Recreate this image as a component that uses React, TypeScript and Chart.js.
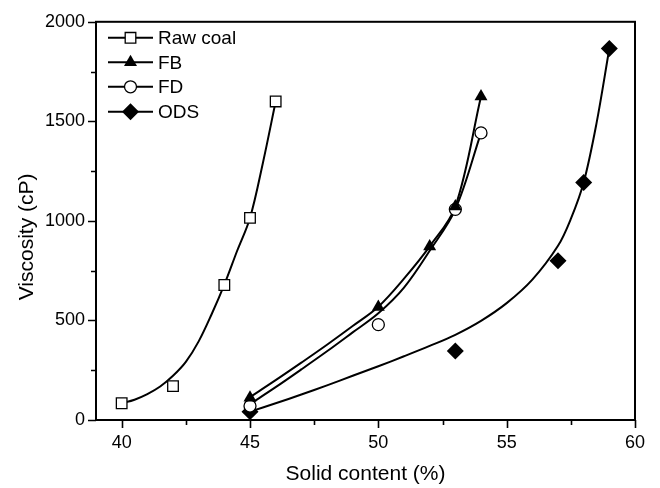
import React, { useEffect, useRef } from 'react';
import { Chart, registerables } from 'chart.js';

Chart.register(...registerables);

const FONT = "'Liberation Sans', Arial, Helvetica, sans-serif";

// Axis ticks
const xMajorTicks = [40, 45, 50, 55, 60];
const xMinorTicks = [42.5, 47.5, 52.5, 57.5];
const yMajorTicks = [0, 500, 1000, 1500, 2000];
const yMinorTicks = [250, 750, 1250, 1750];

// Texts
const seriesNames = ['Raw coal', 'FB', 'FD', 'ODS'];
const xTitle = 'Solid content (%)';
const yTitle = 'Viscosity (cP)';

// Measured points
const rawX = [40, 42, 44, 45, 46];
const rawY = [84, 170, 678, 1015, 1600];
const fbX = [45, 50, 52, 53, 54];
const fbY = [112, 567, 872, 1072, 1625];
const fdX = [45, 50, 53, 54];
const fdY = [70, 479, 1058, 1442];
const odsX = [45, 53, 57, 58, 59];
const odsY = [42, 347, 800, 1193, 1866];

// Fitted curves
const rawFitX = [40, 40.5, 41, 41.5, 42, 42.5, 43, 43.5, 44, 44.5, 45, 45.5, 46];
const rawFitY = [84, 102, 130, 168, 222, 292, 395, 530, 680, 850, 1015, 1290, 1600];
const fbFitX = [45, 46, 47, 48, 49, 50, 51, 52, 53, 54];
const fbFitY = [115, 200, 288, 378, 472, 569, 710, 872, 1072, 1625];
const fdFitX = [45, 46, 47, 48, 49, 50, 51, 52, 53, 54];
const fdFitY = [80, 165, 254, 345, 440, 536, 665, 850, 1058, 1442];
const odsFitX = [45, 46, 47, 48, 49, 50, 51, 52, 53, 54, 55, 56, 57, 57.5, 58, 58.5, 59];
const odsFitY = [42, 84, 128, 174, 222, 270, 320, 372, 428, 498, 587, 705, 875, 1010, 1193, 1490, 1866];

const pts = (xs: number[], ys: number[]) => xs.map((x, i) => ({ x, y: ys[i] }));

type MarkerKind = 'square' | 'triangle' | 'circle' | 'diamond';
const markerKinds: MarkerKind[] = ['square', 'triangle', 'circle', 'diamond'];

function drawMarker(ctx: CanvasRenderingContext2D, kind: MarkerKind, x: number, y: number) {
  ctx.save();
  ctx.beginPath();
  ctx.lineWidth = 1.3;
  ctx.strokeStyle = '#000';
  if (kind === 'square') {
    const s = 10.6;
    ctx.rect(x - s / 2, y - s / 2, s, s);
    ctx.fillStyle = '#fff';
    ctx.fill();
    ctx.stroke();
  } else if (kind === 'triangle') {
    const r = 7.5;
    for (let i = 0; i < 3; i++) {
      const a = (i * 2 * Math.PI) / 3;
      const px = x + Math.sin(a) * r;
      const py = y - Math.cos(a) * r;
      if (i === 0) ctx.moveTo(px, py);
      else ctx.lineTo(px, py);
    }
    ctx.closePath();
    ctx.fillStyle = '#000';
    ctx.fill();
  } else if (kind === 'circle') {
    ctx.arc(x, y, 6, 0, Math.PI * 2);
    ctx.fillStyle = '#fff';
    ctx.fill();
    ctx.stroke();
  } else {
    const r = 8.5;
    ctx.moveTo(x, y - r);
    ctx.lineTo(x + r, y);
    ctx.lineTo(x, y + r);
    ctx.lineTo(x - r, y);
    ctx.closePath();
    ctx.fillStyle = '#000';
    ctx.fill();
  }
  ctx.restore();
}

const framePlugin = {
  id: 'frameTicksLegend',
  afterDraw(chart: any) {
    const ctx: CanvasRenderingContext2D = chart.ctx;
    const { left, right, top, bottom } = chart.chartArea;
    const xs = chart.scales.x;
    const ys = chart.scales.y;
    ctx.save();
    ctx.strokeStyle = '#000';
    ctx.lineWidth = 2;
    ctx.strokeRect(left, top, right - left, bottom - top);
    ctx.lineWidth = 1.6;
    ctx.beginPath();
    xMajorTicks.forEach((v) => {
      const p = Math.round(xs.getPixelForValue(v)) + 0.5;
      ctx.moveTo(p, bottom);
      ctx.lineTo(p, bottom + 8);
    });
    xMinorTicks.forEach((v) => {
      const p = Math.round(xs.getPixelForValue(v)) + 0.5;
      ctx.moveTo(p, bottom);
      ctx.lineTo(p, bottom + 5);
    });
    yMajorTicks.forEach((v) => {
      const p = Math.round(ys.getPixelForValue(v)) + 0.5;
      ctx.moveTo(left, p);
      ctx.lineTo(left - 8, p);
    });
    yMinorTicks.forEach((v) => {
      const p = Math.round(ys.getPixelForValue(v)) + 0.5;
      ctx.moveTo(left, p);
      ctx.lineTo(left - 5, p);
    });
    ctx.stroke();

    // Y axis title
    ctx.save();
    ctx.translate(27, (top + bottom) / 2 + 16);
    ctx.rotate(-Math.PI / 2);
    ctx.font = `21px ${FONT}`;
    ctx.textAlign = 'center';
    ctx.textBaseline = 'middle';
    ctx.fillStyle = '#000';
    ctx.fillText(yTitle, 0, 0);
    ctx.restore();

    // Legend
    const lx0 = left + 12;
    const lx1 = left + 57;
    const mx = (lx0 + lx1) / 2;
    const rowY = [top + 16, top + 40.5, top + 65, top + 90];
    ctx.font = `19px ${FONT}`;
    ctx.textBaseline = 'middle';
    ctx.textAlign = 'left';
    ctx.fillStyle = '#000';
    seriesNames.forEach((name, i) => {
      const y = rowY[i];
      ctx.beginPath();
      ctx.lineWidth = 2;
      ctx.moveTo(lx0, y);
      ctx.lineTo(lx1, y);
      ctx.stroke();
      drawMarker(ctx, markerKinds[i], mx, y);
      ctx.fillStyle = '#000';
      ctx.fillText(name, lx1 + 5, y + 1);
    });
    ctx.restore();
  },
};

export default function App() {
  const ref = useRef<HTMLCanvasElement | null>(null);

  useEffect(() => {
    if (!ref.current) return;
    Chart.defaults.color = '#000';
    Chart.defaults.font.family = FONT;

    const lineDs = (label: string, xs: number[], ys: number[]) => ({
      label,
      data: pts(xs, ys),
      showLine: true,
      borderColor: '#000',
      borderWidth: 2,
      pointRadius: 0,
      pointHoverRadius: 0,
      tension: 0.35,
      fill: false,
    });

    const chart = new Chart(ref.current, {
      type: 'scatter',
      data: {
        datasets: [
          {
            label: seriesNames[0],
            data: pts(rawX, rawY),
            showLine: false,
            pointStyle: 'rect',
            pointRadius: 7.5,
            backgroundColor: '#fff',
            borderColor: '#000',
            borderWidth: 1.3,
          },
          {
            label: seriesNames[1],
            data: pts(fbX, fbY),
            showLine: false,
            pointStyle: 'triangle',
            pointRadius: 7.5,
            backgroundColor: '#000',
            borderColor: '#000',
            borderWidth: 0,
          },
          {
            label: seriesNames[2],
            data: pts(fdX, fdY),
            showLine: false,
            pointStyle: 'circle',
            pointRadius: 6,
            backgroundColor: '#fff',
            borderColor: '#000',
            borderWidth: 1.3,
          },
          {
            label: seriesNames[3],
            data: pts(odsX, odsY),
            showLine: false,
            pointStyle: 'rectRot',
            pointRadius: 8.5,
            backgroundColor: '#000',
            borderColor: '#000',
            borderWidth: 0,
          },
          lineDs('Raw coal fit', rawFitX, rawFitY),
          lineDs('FB fit', fbFitX, fbFitY),
          lineDs('FD fit', fdFitX, fdFitY),
          lineDs('ODS fit', odsFitX, odsFitY),
        ] as any,
      },
      options: {
        animation: false,
        responsive: false,
        events: [],
        layout: { padding: { top: 16, right: 25, left: 0, bottom: 0 } },
        plugins: {
          legend: { display: false },
          tooltip: { enabled: false },
        },
        scales: {
          x: {
            type: 'linear',
            min: 39,
            max: 60,
            border: { display: false },
            grid: { display: false, drawTicks: false },
            afterBuildTicks: (s: any) => {
              s.ticks = xMajorTicks.map((v) => ({ value: v }));
            },
            afterFit: (s: any) => {
              s.height = 68;
            },
            ticks: {
              padding: 12,
              maxRotation: 0,
              autoSkip: false,
              font: { size: 18, family: FONT },
              color: '#000',
              callback: (v: any) => String(v),
            },
            title: {
              display: true,
              text: xTitle,
              font: { size: 21, family: FONT },
              color: '#000',
              padding: { top: 0, bottom: 1 },
            },
          },
          y: {
            type: 'linear',
            min: 0,
            max: 2000,
            border: { display: false },
            grid: { display: false, drawTicks: false },
            afterBuildTicks: (s: any) => {
              s.ticks = yMajorTicks.map((v) => ({ value: v }));
            },
            afterFit: (s: any) => {
              s.width = 96;
            },
            ticks: {
              padding: 11,
              autoSkip: false,
              font: { size: 18, family: FONT },
              color: '#000',
              callback: (v: any) => String(v),
            },
            title: { display: false },
          },
        },
      } as any,
      plugins: [framePlugin],
    });
    return () => chart.destroy();
  }, []);

  return (
    <div style={{ position: 'fixed', left: 0, top: 0, width: 660, height: 488, background: '#fff' }}>
      <canvas ref={ref} width={660} height={488} />
    </div>
  );
}
